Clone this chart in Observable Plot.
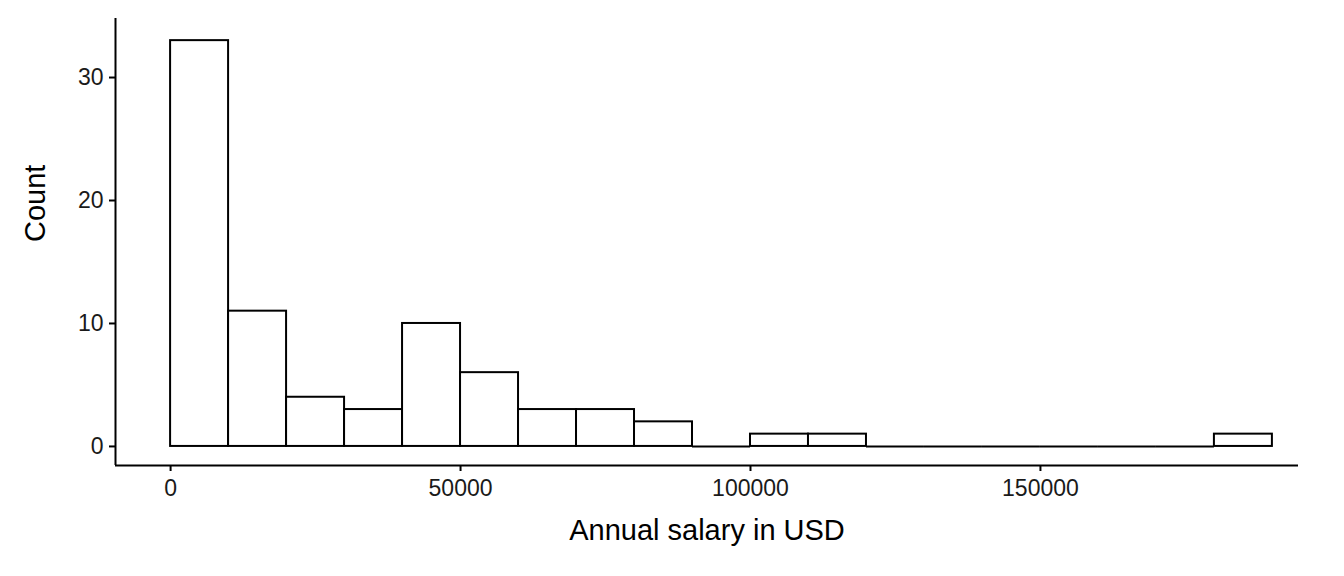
<!DOCTYPE html>
<html><head>
<script src="https://cdn.jsdelivr.net/npm/d3@7"></script>
<script src="https://cdn.jsdelivr.net/npm/@observablehq/plot@0.6"></script>
<style>body{margin:0;background:#fff}</style>
</head><body><div id="c"></div>
<script>
const binStart = [0,10000,20000,30000,40000,50000,60000,70000,80000,90000,100000,110000,120000,130000,140000,150000,160000,170000,180000];
const counts   = [33,11,4,3,10,6,3,3,2,0,1,1,0,0,0,0,0,0,1];
const xTicks = [0,50000,100000,150000];
const yTicks = [0,10,20,30];
const data = binStart.map((s,i)=>({x1:s,x2:s+10000,n:counts[i]}));
const xDom=[-9500,194500], yDom=[-1.55,34.8];
const plot = Plot.plot({
  width:1344, height:576,
  marginLeft:115, marginRight:46, marginTop:18, marginBottom:111,
  style:{fontFamily:"Liberation Sans, Arial, sans-serif", fontSize:"23px", color:"#000", background:"#fff"},
  x:{domain:xDom}, y:{domain:yDom},
  marks:[
    Plot.rect(data.filter(d=>d.n>0),{x1:"x1",x2:"x2",y1:0,y2:"n",fill:"white",stroke:"black",strokeWidth:2}),
    Plot.ruleY(data.filter(d=>d.n===0),{y:0,x1:"x1",x2:"x2",stroke:"black",strokeWidth:2}),
    Plot.ruleY([yDom[0]],{stroke:"black",strokeWidth:2}),
    Plot.ruleX([xDom[0]],{stroke:"black",strokeWidth:2}),
    Plot.axisX({ticks:xTicks,tickFormat:d=>String(d),tickSize:6,tickPadding:8,label:null,strokeWidth:2,fill:"#1a1a1a",fontSize:23}),
    Plot.axisY({ticks:yTicks,tickSize:6,tickPadding:6,label:null,strokeWidth:2,fill:"#1a1a1a",fontSize:23}),
    Plot.text(["Annual salary in USD"],{frameAnchor:"bottom",dy:74,fontSize:29,fill:"black"}),
    Plot.text(["Count"],{frameAnchor:"left",dx:-80,rotate:-90,fontSize:29,fill:"black"})
  ]
});
document.getElementById("c").append(plot);
</script></body></html>
